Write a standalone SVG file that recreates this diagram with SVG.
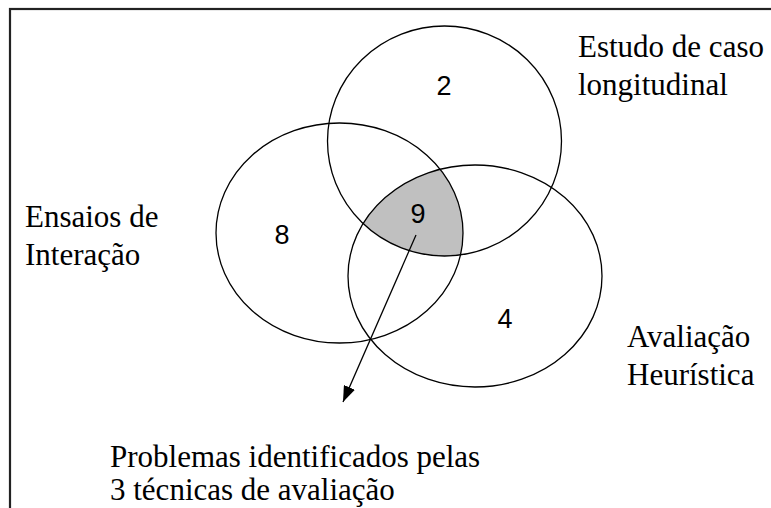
<svg xmlns="http://www.w3.org/2000/svg" width="771" height="508" viewBox="0 0 771 508">
<style>
.set{fill:none;stroke:#000;stroke-width:1.3}
.lbl{font-family:"Liberation Serif","Times New Roman",serif;font-size:31px;fill:#000}
.num{font-family:"Liberation Sans",Arial,sans-serif;font-size:27px;fill:#000;text-anchor:middle}
</style>
<defs>
<clipPath id="cL"><ellipse cx="339.5" cy="233" rx="123.5" ry="110"/></clipPath>
<clipPath id="cR"><ellipse cx="475" cy="276" rx="127" ry="111"/></clipPath>
<marker id="ah" viewBox="0 0 16 12" refX="16" refY="6" markerWidth="16" markerHeight="12" markerUnits="userSpaceOnUse" orient="auto">
<path d="M0,0 L16,6 L0,12 z" fill="#000"/>
</marker>
</defs>
<rect x="0" y="0" width="771" height="508" fill="#fff"/>
<rect id="frame" x="10" y="9" width="800" height="560" fill="none" stroke="#222" stroke-width="2.2"/>
<g id="shaded">
<g clip-path="url(#cL)"><g clip-path="url(#cR)"><ellipse cx="444.5" cy="141" rx="117" ry="115" fill="#c0c0c0"/></g></g>
</g>
<g id="estudo">
<ellipse class="set" cx="444.5" cy="141" rx="117" ry="115"/>
<text class="lbl" x="578" y="57">Estudo de caso</text>
<text class="lbl" x="578" y="95">longitudinal</text>
<text class="num" x="444" y="95">2</text>
</g>
<g id="ensaios">
<ellipse class="set" cx="339.5" cy="233" rx="123.5" ry="110"/>
<text class="lbl" x="25" y="227">Ensaios de</text>
<text class="lbl" x="25" y="265">Interação</text>
<text class="num" x="282" y="244">8</text>
</g>
<g id="avaliacao">
<ellipse class="set" cx="475" cy="276" rx="127" ry="111"/>
<text class="lbl" x="627" y="347">Avaliação</text>
<text class="lbl" x="627" y="385">Heurística</text>
<text class="num" x="505" y="328">4</text>
</g>
<g id="centro">
<text class="num" x="418" y="223">9</text>
</g>
<g id="connectors">
<line x1="416" y1="235" x2="343" y2="402" stroke="#000" stroke-width="1.3" marker-end="url(#ah)"/>
</g>
<g id="problemas">
<text class="lbl" x="110" y="467">Problemas identificados pelas</text>
<text class="lbl" x="110" y="500">3 técnicas de avaliação</text>
</g>
</svg>
